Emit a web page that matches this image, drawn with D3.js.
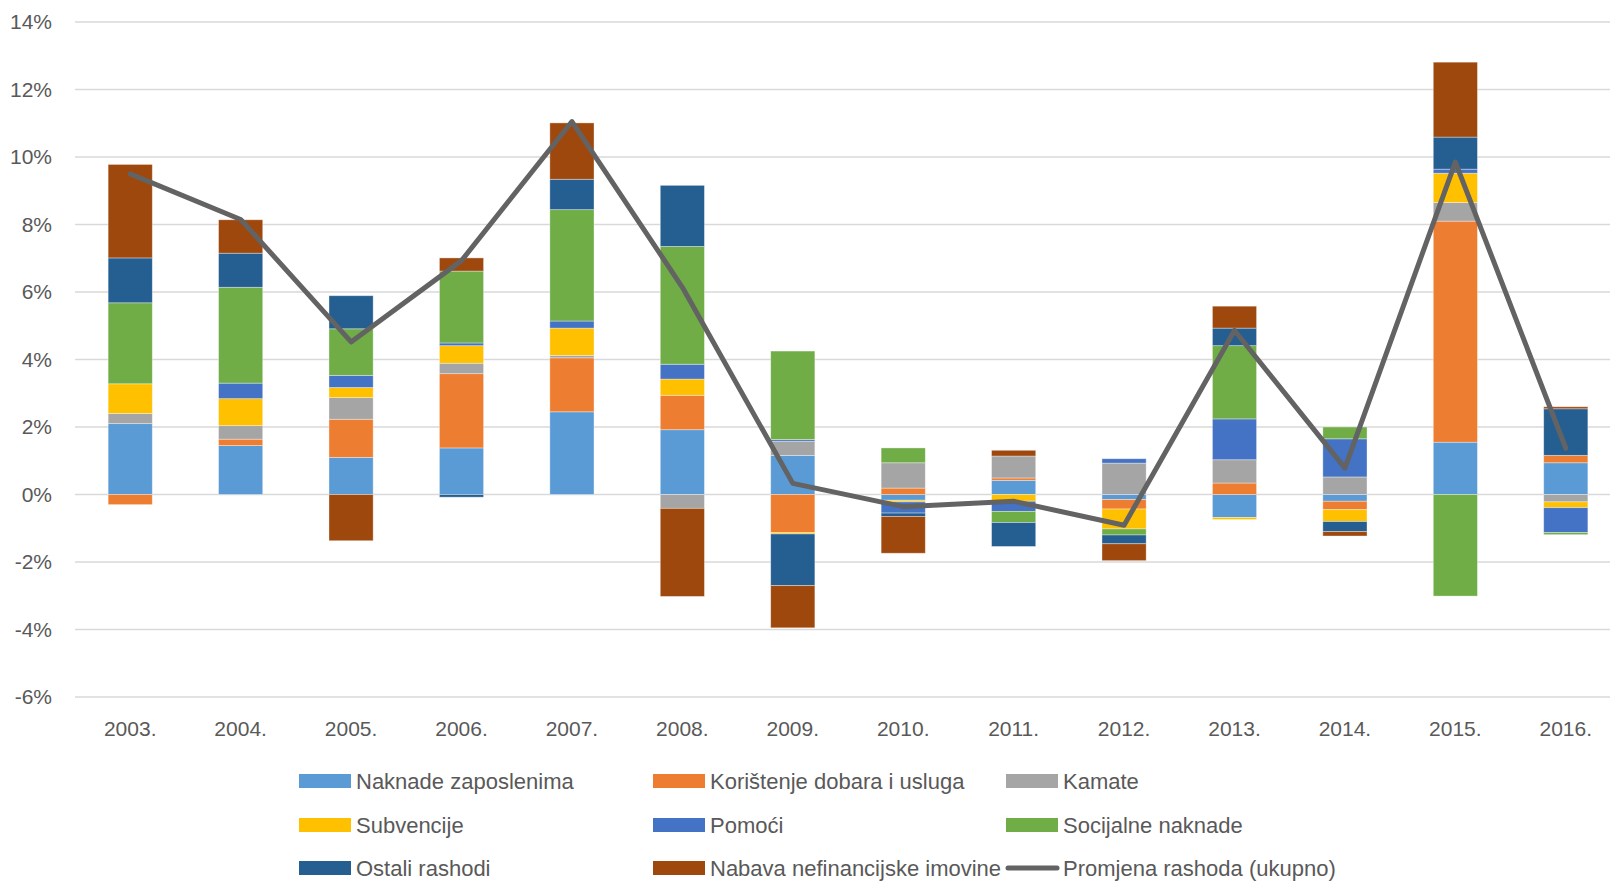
<!DOCTYPE html>
<html lang="hr">
<head>
<meta charset="UTF-8">
<title>Doprinosi promjeni rashoda</title>
<script src="https://d3js.org/d3.v7.min.js"></script>
<style>
    body{ margin:0; background:#fff; }
    svg{ font-family:"Liberation Sans", Arial, sans-serif; display:block; }
</style>
</head>
<body>
<svg width="1610" height="883"></svg>
<script>
// data (postotni bodovi doprinosa promjeni rashoda)
const years = ["2003.","2004.","2005.","2006.","2007.","2008.","2009.","2010.","2011.","2012.","2013.","2014.","2015.","2016."];
const naknade    = [2.10, 1.45, 1.10, 1.38, 2.45, 1.92, 1.16, -0.17, 0.42, -0.15, -0.68, -0.20, 1.55, 0.94];
const koristenje = [-0.30, 0.19, 1.13, 2.20, 1.60, 1.02, -1.13, 0.19, 0.07, -0.28, 0.34, -0.25, 6.55, 0.22];
const kamate     = [0.30, 0.40, 0.64, 0.31, 0.07, -0.41, 0.42, 0.75, 0.65, 0.93, 0.69, 0.52, 0.55, -0.22];
const subvencije = [0.88, 0.80, 0.30, 0.52, 0.81, 0.48, -0.04, -0.05, -0.20, -0.59, -0.06, -0.35, 0.87, -0.17];
const pomoci     = [0.00, 0.46, 0.36, 0.08, 0.21, 0.44, 0.05, -0.33, -0.30, 0.13, 1.21, 1.13, 0.12, -0.74];
const socijalne  = [2.40, 2.84, 1.38, 2.13, 3.30, 3.49, 2.62, 0.44, -0.33, -0.18, 2.17, 0.35, -3.01, -0.06];
const ostali     = [1.33, 1.01, 0.98, -0.08, 0.90, 1.81, -1.53, -0.10, -0.71, -0.26, 0.52, -0.30, 0.95, 1.38];
const nabava     = [2.77, 0.99, -1.37, 0.39, 1.67, -2.61, -1.25, -1.09, 0.17, -0.50, 0.65, -0.13, 2.22, 0.06];
const ukupno     = [9.50, 8.15, 4.52, 6.93, 11.05, 6.14, 0.33, -0.36, -0.20, -0.91, 4.86, 0.78, 9.85, 1.37];

const seriesNames = ["Naknade zaposlenima","Korištenje dobara i usluga","Kamate","Subvencije","Pomoći","Socijalne naknade","Ostali rashodi","Nabava nefinancijske imovine"];
const seriesValues = [naknade, koristenje, kamate, subvencije, pomoci, socijalne, ostali, nabava];
const colors = ["#5b9bd5","#ed7d31","#a5a5a5","#ffc000","#4472c4","#70ad47","#255e91","#9e480e"];
const lineName = "Promjena rashoda (ukupno)";
const yTicks = [-6,-4,-2,0,2,4,6,8,10,12,14];

const svg = d3.select("svg");
const plotLeft = 75, plotRight = 1621, plotTop = 22, plotBottom = 697;

const rows = years.map((yr,i) => {
    const r = {year:yr};
    seriesNames.forEach((s,j) => r[s] = seriesValues[j][i]);
    return r;
});
const stacked = d3.stack().keys(seriesNames).offset(d3.stackOffsetDiverging)(rows);

const x = d3.scaleBand().domain(years).range([plotLeft,plotRight]).paddingInner(0.6).paddingOuter(0.3);
const y = d3.scaleLinear().domain([-6,14]).range([plotBottom,plotTop]);

// gridlines
svg.append("g").selectAll("line").data(yTicks).join("line")
    .attr("x1",plotLeft).attr("x2",plotRight)
    .attr("y1",d=>y(d)).attr("y2",d=>y(d))
    .attr("stroke","#d9d9d9").attr("stroke-width",1.5);

// y axis labels
svg.append("g").selectAll("text").data(yTicks).join("text")
    .attr("x",52).attr("y",d=>y(d)).attr("dy","0.35em")
    .attr("text-anchor","end").attr("font-size",21).attr("fill","#595959")
    .text(d=>d+"%");

// x axis labels
svg.append("g").selectAll("text").data(years).join("text")
    .attr("x",d=>x(d)+x.bandwidth()/2).attr("y",736)
    .attr("text-anchor","middle").attr("font-size",21).attr("fill","#595959")
    .text(d=>d);

// bars
svg.append("g").selectAll("g").data(stacked).join("g")
    .attr("fill",(d,i)=>colors[i])
    .selectAll("rect").data(d=>d).join("rect")
    .attr("x",d=>x(d.data.year))
    .attr("width",x.bandwidth())
    .attr("y",d=>y(Math.max(d[0],d[1])))
    .attr("height",d=>Math.abs(y(d[0])-y(d[1])))
    .attr("stroke","#ffffff").attr("stroke-opacity",0.45).attr("stroke-width",0.8);

// line
const line = d3.line().x((d,i)=>x(years[i])+x.bandwidth()/2).y(d=>y(d));
svg.append("path").datum(ukupno)
    .attr("d",line).attr("fill","none")
    .attr("stroke","#636363").attr("stroke-width",5)
    .attr("stroke-linejoin","round").attr("stroke-linecap","round");

// legend
const colX = [299,653,1006];
const rowY = [781,825,868];
const legendItems = seriesNames.map((s,i)=>({name:s,color:colors[i],type:"rect"}))
    .concat([{name:lineName,color:"#636363",type:"line"}]);
const lg = svg.append("g").selectAll("g").data(legendItems).join("g")
    .attr("transform",(d,i)=>`translate(${colX[i%3]},${rowY[Math.floor(i/3)]})`);
lg.filter(d=>d.type==="rect").append("rect")
    .attr("x",0).attr("y",-7).attr("width",52).attr("height",14)
    .attr("fill",d=>d.color);
lg.filter(d=>d.type==="line").append("line")
    .attr("x1",2).attr("x2",51).attr("y1",0).attr("y2",0)
    .attr("stroke",d=>d.color).attr("stroke-width",5).attr("stroke-linecap","round");
lg.append("text")
    .attr("x",57).attr("y",0).attr("dy","0.35em")
    .attr("font-size",22).attr("fill","#595959")
    .text(d=>d.name);
</script>
</body>
</html>
